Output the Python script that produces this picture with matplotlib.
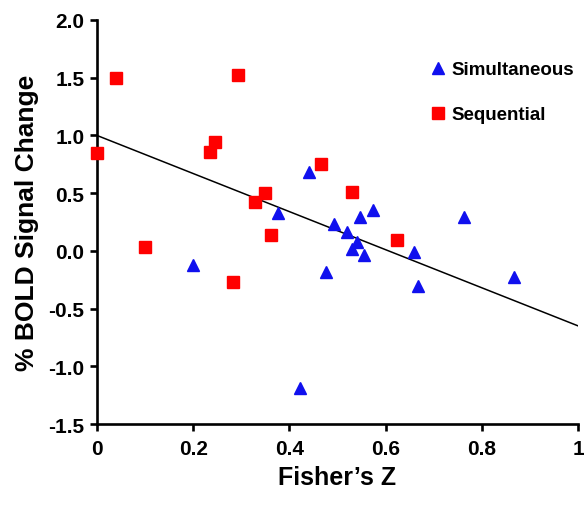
import numpy as np
import matplotlib.pyplot as plt
from matplotlib.lines import Line2D

plt.rcParams['font.family'] = ['Liberation Sans', 'DejaVu Sans']
plt.rcParams['font.weight'] = 'bold'

# Simultaneous (blue triangles)
sim_x = [0.20, 0.376, 0.421, 0.44, 0.477, 0.492, 0.52, 0.531, 0.541, 0.546,
         0.554, 0.574, 0.659, 0.667, 0.762, 0.866]
sim_y = [-0.12, 0.33, -1.19, 0.68, -0.18, 0.23, 0.16, 0.02, 0.08, 0.29,
         -0.04, 0.35, -0.01, -0.30, 0.29, -0.23]

# Sequential (red squares)
seq_x = [0.0, 0.04, 0.10, 0.235, 0.245, 0.283, 0.293, 0.329, 0.349, 0.362,
         0.465, 0.529, 0.624]
seq_y = [0.85, 1.50, 0.03, 0.86, 0.94, -0.27, 1.52, 0.42, 0.50, 0.14,
         0.75, 0.51, 0.09]

# fitted line endpoints
fit_x = [0.0, 1.0]
fit_y = [1.0, -0.65]

fig = plt.figure(figsize=(5.84, 5.06), dpi=100)
ax = fig.add_axes([0.166, 0.160, 0.824, 0.7985])

ax.plot(fit_x, fit_y, color='black', lw=1.1, zorder=2)
ax.plot(sim_x, sim_y, ls='none', marker='^', ms=9, color='#1010ee', zorder=3, clip_on=False)
ax.plot(seq_x, seq_y, ls='none', marker='s', ms=8.5, color='#ff0000', zorder=3, clip_on=False)

ax.set_xlim(0, 1)
ax.set_ylim(-1.5, 2.0)
ax.set_xticks([0, 0.2, 0.4, 0.6, 0.8, 1])
ax.set_xticklabels(['0', '0.2', '0.4', '0.6', '0.8', '1'])
ax.set_yticks(np.arange(-1.5, 2.01, 0.5))
ax.set_yticklabels(['-1.5', '-1.0', '-0.5', '0.0', '0.5', '1.0', '1.5', '2.0'])

for s in ['top', 'right']:
  ax.spines[s].set_visible(False)
for s in ['left', 'bottom']:
  ax.spines[s].set_linewidth(1.9)
ax.tick_params(direction='out', length=5, width=1.9, labelsize=15, pad=4)
ax.tick_params(axis='x', pad=6)

ax.set_xlabel("Fisher’s Z", fontsize=18, fontweight='bold', labelpad=5)
ax.set_ylabel("% BOLD Signal Change", fontsize=19, fontweight='bold', labelpad=7)

handles = [Line2D([], [], ls='none', marker='^', ms=8, color='#1010ee'),
           Line2D([], [], ls='none', marker='s', ms=8, color='#ff0000')]
ax.legend(handles, ['Simultaneous', 'Sequential'], loc='upper left',
          bbox_to_anchor=(0.65, 0.94), frameon=False, fontsize=13.5,
          handletextpad=0.1, labelspacing=1.5, handlelength=1.2)

fig.savefig('out.png', dpi=100)
